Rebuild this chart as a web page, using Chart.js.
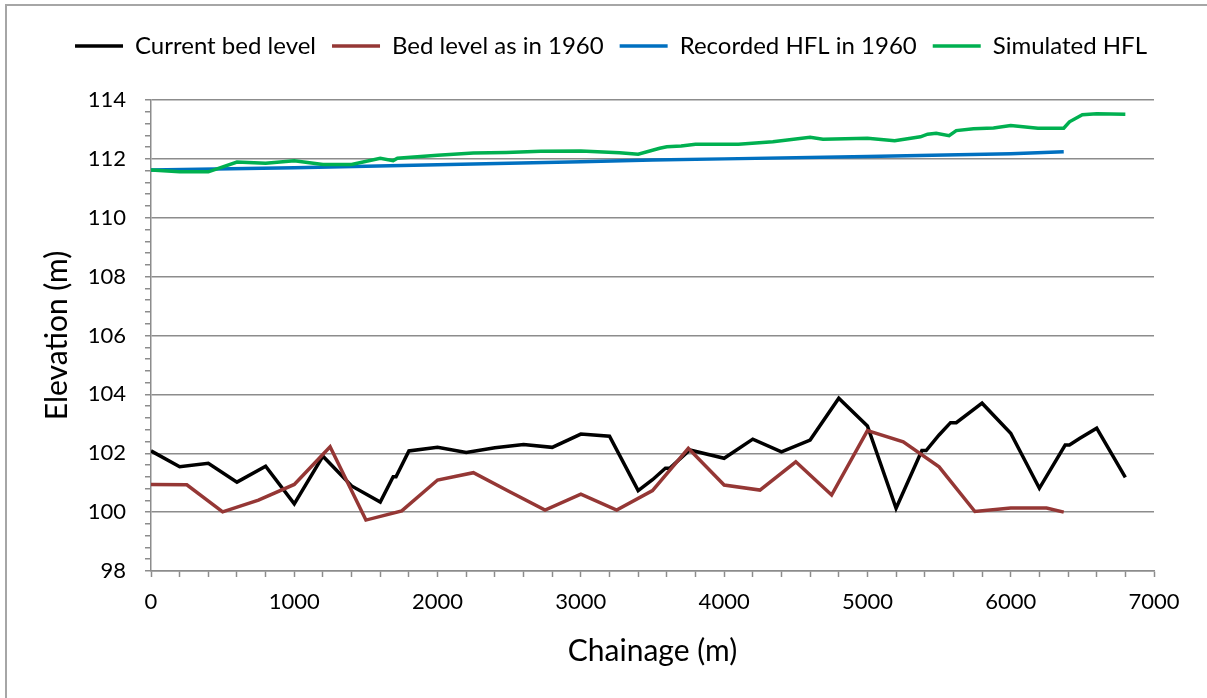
<!DOCTYPE html>
<html>
<head>
<meta charset="utf-8">
<script src="https://cdn.jsdelivr.net/npm/chart.js@4.4.1/dist/chart.umd.min.js"></script>
<style>
    html, body { margin: 0; padding: 0; background: #fff; overflow: hidden; }
    #wrap { position: relative; width: 1207px; height: 698px; overflow: hidden; }
    #frame { position: absolute; left: 5px; top: 4px; width: 1300px; height: 800px; border: 2px solid #a6a6a6; }
    canvas { position: absolute; left: 0; top: 0; }
</style>
</head>
<body>
<div id="wrap">
    <div id="frame"></div>
    <canvas id="chart" width="1207" height="698"></canvas>
</div>
<script>
// Current bed level
const chainBed = [0, 200, 400, 600, 800, 1000, 1200, 1400, 1600, 1690, 1710, 1800, 2000, 2200, 2400, 2600, 2800, 3000, 3200, 3400, 3500, 3590, 3620, 3760, 4000, 4200, 4400, 4600, 4800, 5000, 5200, 5380, 5410, 5500, 5580, 5620, 5800, 6000, 6200, 6380, 6410, 6480, 6600, 6800];
const bedNow = [102.08, 101.54, 101.66, 101.02, 101.56, 100.28, 101.9, 100.89, 100.34, 101.2, 101.2, 102.08, 102.2, 102.03, 102.19, 102.3, 102.2, 102.65, 102.58, 100.73, 101.1, 101.49, 101.49, 102.11, 101.83, 102.48, 102.05, 102.45, 103.87, 102.93, 100.13, 102.09, 102.09, 102.62, 103.04, 103.04, 103.7, 102.68, 100.81, 102.28, 102.28, 102.5, 102.85, 101.18];

// Bed level as in 1960
const chain1960 = [0, 250, 500, 750, 1000, 1250, 1500, 1750, 2000, 2250, 2500, 2750, 3000, 3250, 3500, 3750, 4000, 4250, 4500, 4750, 5000, 5250, 5500, 5750, 6000, 6250, 6370];
const bed1960 = [100.94, 100.93, 100.01, 100.41, 100.94, 102.22, 99.73, 100.04, 101.09, 101.34, 100.7, 100.07, 100.61, 100.07, 100.73, 102.17, 100.92, 100.75, 101.71, 100.58, 102.77, 102.39, 101.54, 100.02, 100.14, 100.14, 100.0];

// Recorded HFL in 1960
const chainHfl = [0, 1000, 2000, 3000, 3500, 4000, 5000, 6000, 6370];
const hflRec = [111.62, 111.7, 111.8, 111.9, 111.96, 112.0, 112.08, 112.17, 112.24];

// Simulated HFL
const chainSim = [0, 200, 400, 600, 800, 1000, 1200, 1400, 1600, 1690, 1720, 2000, 2250, 2480, 2720, 3000, 3270, 3400, 3550, 3600, 3700, 3800, 4100, 4340, 4600, 4690, 5000, 5190, 5370, 5420, 5480, 5570, 5620, 5740, 5880, 6000, 6190, 6370, 6410, 6500, 6600, 6800];
const simHfl = [111.62, 111.56, 111.56, 111.89, 111.85, 111.94, 111.81, 111.81, 112.02, 111.94, 112.02, 112.12, 112.2, 112.22, 112.26, 112.27, 112.21, 112.16, 112.36, 112.41, 112.44, 112.5, 112.5, 112.58, 112.73, 112.67, 112.7, 112.62, 112.75, 112.84, 112.87, 112.79, 112.96, 113.02, 113.05, 113.13, 113.04, 113.04, 113.26, 113.5, 113.53, 113.52];

const seriesNames = ['Current bed level', 'Bed level as in 1960', 'Recorded HFL in 1960', 'Simulated HFL'];
const seriesColors = ['#000000', '#953735', '#0070c0', '#00b050'];

const xMin = 0, xMax = 7000, xMajor = 1000, xMinor = 200;
const yMin = 98, yMax = 114, yMajor = 2, yMinor = 0.4;

const gridGray = '#8c8c8c';
const fontName = 'Lato, "Open Sans", sans-serif';

function toPoints(xs, ys) {
    return xs.map((x, i) => ({ x: x, y: ys[i] }));
}

function isMultiple(v, step) {
    return Math.abs(v / step - Math.round(v / step)) < 1e-6;
}

// more room under the legend, and shift it a little to the right
const legendTweak = {
    id: 'legendTweak',
    beforeInit(chart) {
        const legend = chart.legend;
        const fit = legend.fit;
        legend.fit = function() {
            fit.call(legend);
            this.height += 32;
        };
        const draw = legend.draw;
        legend.draw = function() {
            const ctx = chart.ctx;
            ctx.save();
            ctx.translate(34, 0);
            draw.apply(legend, arguments);
            ctx.restore();
        };
    }
};

const data = {
    datasets: [
        { label: seriesNames[0], data: toPoints(chainBed, bedNow), order: 4 },
        { label: seriesNames[1], data: toPoints(chain1960, bed1960), order: 3 },
        { label: seriesNames[2], data: toPoints(chainHfl, hflRec), order: 2 },
        { label: seriesNames[3], data: toPoints(chainSim, simHfl), order: 1 }
    ].map((d, i) => Object.assign(d, {
        borderColor: seriesColors[i],
        backgroundColor: seriesColors[i],
        borderWidth: 3.5,
        pointRadius: 0,
        tension: 0,
        fill: false
    }))
};

new Chart(document.getElementById('chart'), {
    type: 'line',
    data: data,
    plugins: [legendTweak],
    options: {
        responsive: false,
        animation: false,
        layout: { padding: { left: 0, right: 53, top: 18, bottom: 10 } },
        plugins: {
            tooltip: { enabled: false },
            legend: {
                position: 'top',
                labels: {
                    usePointStyle: true,
                    pointStyle: 'line',
                    pointStyleWidth: 48,
                    padding: 16,
                    color: '#000',
                    font: { family: fontName, size: 24 },
                    sort: (a, b) => a.datasetIndex - b.datasetIndex
                }
            }
        },
        scales: {
            x: {
                type: 'linear',
                min: xMin,
                max: xMax,
                afterFit: s => { s.height = 117; },
                border: { color: gridGray, width: 1.5 },
                grid: { drawOnChartArea: false, drawTicks: true, tickLength: 6, tickColor: gridGray, tickWidth: 1.5 },
                ticks: {
                    stepSize: xMinor,
                    autoSkip: false,
                    maxRotation: 0,
                    padding: 12,
                    color: '#000',
                    font: { family: fontName, size: 22 },
                    callback: v => isMultiple(v, xMajor) ? String(Math.round(v)) : ''
                },
                title: {
                    display: true,
                    text: 'Chainage (m)',
                    color: '#000',
                    font: { family: fontName, size: 30 },
                    padding: { top: 0, bottom: 19 }
                }
            },
            y: {
                min: yMin,
                max: yMax,
                afterFit: s => { s.width = 151; },
                border: { color: gridGray, width: 1.5 },
                grid: {
                    drawTicks: true,
                    tickLength: 6,
                    tickColor: gridGray,
                    tickWidth: 1.5,
                    lineWidth: 1.5,
                    color: ctx => isMultiple(ctx.tick.value, yMajor) ? gridGray : 'rgba(0,0,0,0)'
                },
                ticks: {
                    stepSize: yMinor,
                    autoSkip: false,
                    padding: 19,
                    color: '#000',
                    font: { family: fontName, size: 22 },
                    callback: v => isMultiple(v, yMajor) ? String(Math.round(v)) : ''
                },
                title: {
                    display: true,
                    text: 'Elevation (m)',
                    color: '#000',
                    font: { family: fontName, size: 30 },
                    padding: { top: 39, bottom: 0 }
                }
            }
        }
    }
});
</script>
</body>
</html>
